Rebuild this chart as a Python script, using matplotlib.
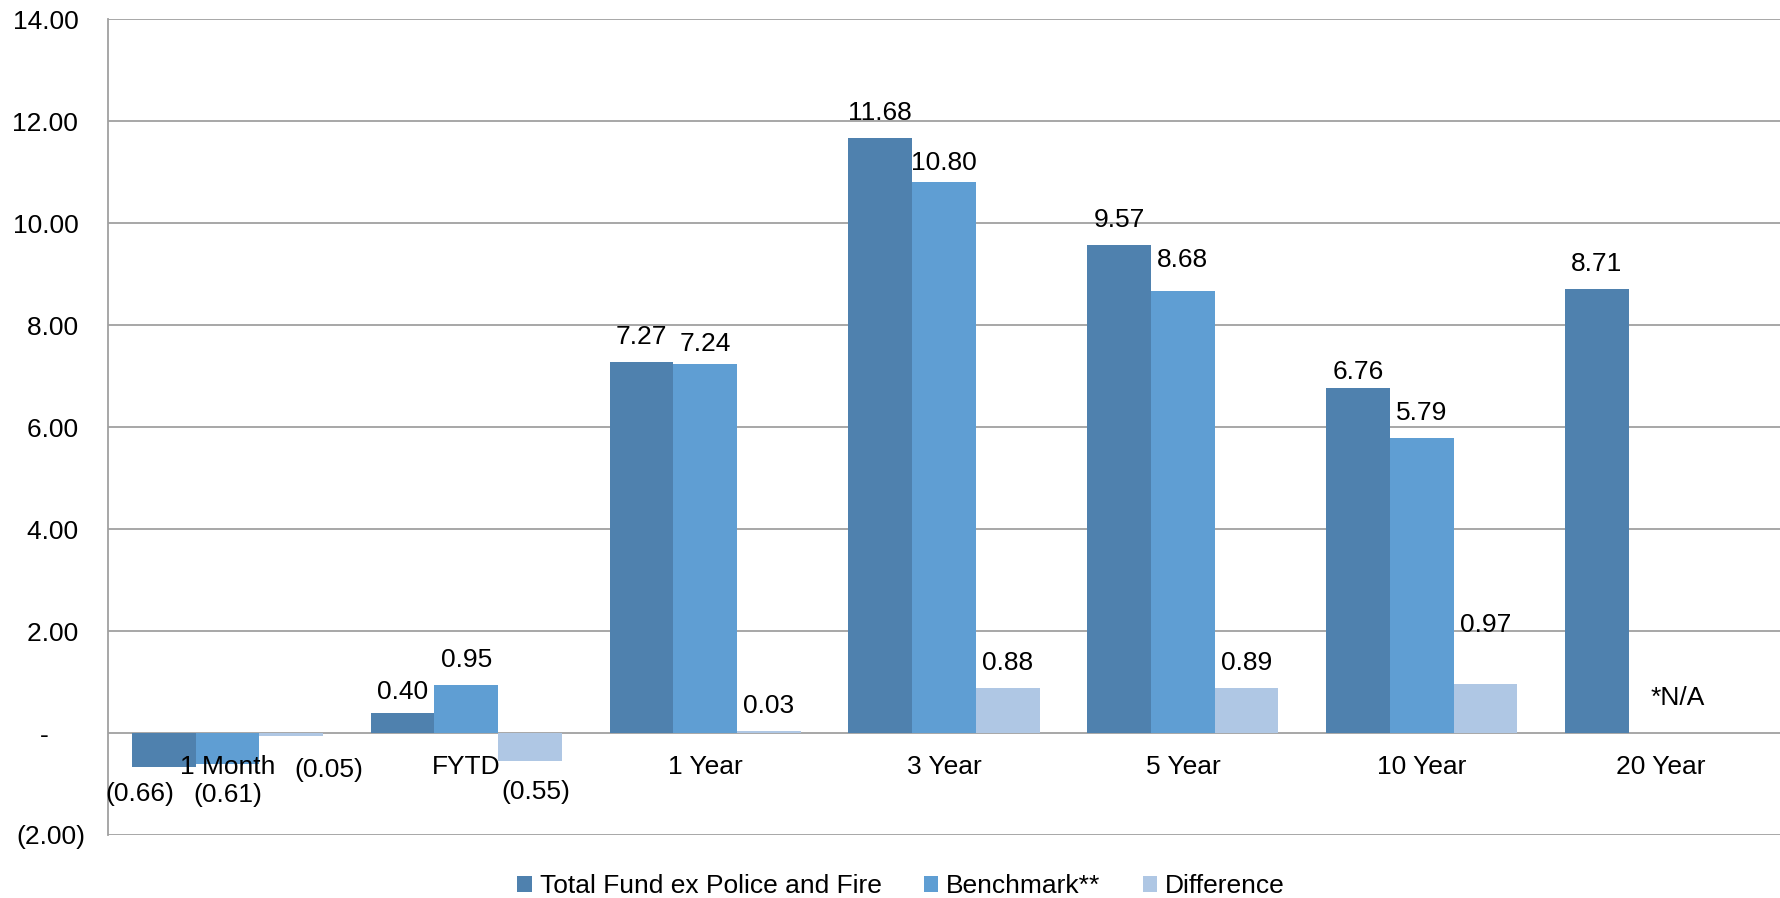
import numpy as np
import matplotlib.pyplot as plt

plt.rcParams['font.family'] = ['Liberation Sans', 'DejaVu Sans']

categories = ['1 Month', 'FYTD', '1 Year', '3 Year', '5 Year', '10 Year', '20 Year']
total_fund = [-0.66, 0.40, 7.27, 11.68, 9.57, 6.76, 8.71]
benchmark = [-0.61, 0.95, 7.24, 10.80, 8.68, 5.79, np.nan]
difference = [-0.05, -0.55, 0.03, 0.88, 0.89, 0.97, np.nan]
series_names = ['Total Fund ex Police and Fire', 'Benchmark**', 'Difference']

y_ticks = [-2, 0, 2, 4, 6, 8, 10, 12, 14]
y_labels = ['(2.00)', '-     ', '2.00 ', '4.00 ', '6.00 ', '8.00 ', '10.00 ', '12.00 ', '14.00 ']

colors = ['#4f81ae', '#5f9ed3', '#afc7e4']
fs = 19

def fmt(v):
    return '({:.2f})'.format(-v) if v < 0 else '{:.2f}'.format(v)

fig = plt.figure(figsize=(17.81, 8.98), dpi=100)
ax = fig.add_axes([0.0606, 0.0702, 0.9389, 0.9083])

x = np.arange(len(categories))
w = 0.2667
all_series = [total_fund, benchmark, difference]

# a few labels are shifted so they don't collide (dx, dy in points)
nudge = {
    (0, 0): (-17, -20), (0, 1): (0, 14.5), (0, 5): (0, 11.5),
    (1, 0): (0, -22), (1, 2): (0, 14.5), (1, 3): (0, 14), (1, 4): (0, 22),
    (2, 0): (27, -24.5), (2, 1): (4, -22), (2, 5): (0, 42.5),
}

for s, vals in enumerate(all_series):
    pos = x + (s - 1) * w
    ax.bar(pos, vals, width=w, color=colors[s], label=series_names[s], zorder=3)
    for i, v in enumerate(vals):
        if np.isnan(v):
            continue
        dx, dy = nudge.get((s, i), (0, 18 if v >= 0 else -20))
        ax.annotate(fmt(v), (pos[i], v), xytext=(dx, dy), textcoords='offset points',
                    ha='center', va='center', fontsize=fs, zorder=4)

ax.text(6.07, 0.69, '*N/A', ha='center', va='center', fontsize=fs)

ax.set_xlim(-0.5, 6.5)
ax.set_ylim(-2, 14)
ax.set_yticks(y_ticks)
ax.set_yticklabels(y_labels)
ax.set_xticks(x)
ax.set_xticklabels(categories)

ax.spines['bottom'].set_position(('data', 0))
ax.spines['bottom'].set_visible(False)
ax.spines['top'].set_visible(False)
ax.spines['right'].set_visible(False)
ax.spines['left'].set_color('#a0a0a0')
ax.spines['left'].set_linewidth(1.3)

ax.tick_params(axis='x', length=0, pad=15.5, labelsize=fs)
ax.tick_params(axis='y', length=0, pad=16, labelsize=fs)
ax.yaxis.grid(True, color='#a0a0a0', linewidth=1.3)
ax.set_axisbelow(True)
# category names sit on top of the bars
ax.xaxis.set_zorder(5)

fig.legend(loc='center', bbox_to_anchor=(0.506, 0.013), ncol=3, frameon=False,
           fontsize=fs, handlelength=0.55, handleheight=0.55, handletextpad=0.3,
           columnspacing=1.6)

fig.savefig('out.png', dpi=100)
